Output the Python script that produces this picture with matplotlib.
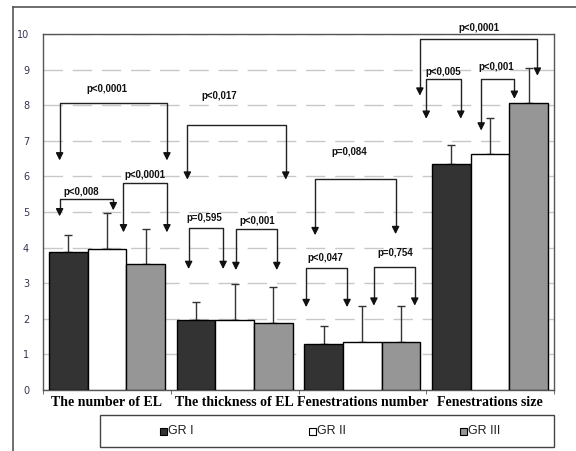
import numpy as np
import matplotlib.pyplot as plt
from matplotlib.patches import Rectangle
from matplotlib.lines import Line2D

categories = ['The number of EL', 'The thickness of EL', 'Fenestrations number', 'Fenestrations size']
groups = ['GR I', 'GR II', 'GR III']
means = {
    'GR I':   [3.88, 1.97, 1.29, 6.35],
    'GR II':  [3.97, 1.98, 1.35, 6.63],
    'GR III': [3.54, 1.88, 1.35, 8.05],
}
upper = {
    'GR I':   [4.35, 2.48, 1.80, 6.88],
    'GR II':  [4.97, 2.99, 2.35, 7.65],
    'GR III': [4.53, 2.89, 2.35, 9.05],
}
colors = {'GR I': '#333333', 'GR II': '#ffffff', 'GR III': '#969696'}

# brackets: x left, x right, y top, left tip, right tip, label, label x, label y
brackets = [
    (-0.37, 0.47, 8.05, 6.37, 6.37, 'p<0,0001', 0.0, 8.45),
    (-0.37, 0.05, 5.37, 4.80, 4.97, 'p<0,008', -0.2, 5.55),
    (0.13, 0.47, 5.82, 4.35, 4.35, 'p<0,0001', 0.3, 6.05),
    (0.63, 1.40, 7.45, 5.83, 5.83, 'p<0,017', 0.88, 8.25),
    (0.64, 0.91, 4.54, 3.32, 3.32, 'p=0,595', 0.76, 4.83),
    (1.01, 1.33, 4.52, 3.29, 3.29, 'p<0,001', 1.18, 4.76),
    (1.63, 2.26, 5.92, 4.27, 4.30, 'p=0,084', 1.9, 6.68),
    (1.56, 1.88, 3.44, 2.25, 2.25, 'p<0,047', 1.71, 3.71),
    (2.09, 2.41, 3.46, 2.29, 2.29, 'p=0,754', 2.26, 3.85),
    (2.45, 3.37, 9.85, 8.19, 8.75, 'p<0,0001', 2.91, 10.18),
    (2.50, 2.77, 8.74, 7.54, 7.54, 'p<0,005', 2.63, 8.94),
    (2.93, 3.19, 8.75, 7.21, 8.10, 'p<0,001', 3.05, 9.06),
]

fig = plt.figure(figsize=(5.76, 4.51), dpi=100)
ax = fig.add_axes([43/576, 1-390/451, 511/576, 356/451])

x = np.arange(len(categories))
w = 0.303
for i, g in enumerate(groups):
    pos = x + (i - 1) * w
    ax.bar(pos, means[g], w, color=colors[g], edgecolor='black', linewidth=1, zorder=3)
    err = np.array(upper[g]) - np.array(means[g])
    ax.errorbar(pos, means[g], yerr=[np.zeros(len(err)), err], fmt='none',
                ecolor='#333333', elinewidth=1, capsize=3, capthick=1, zorder=2)

for x1, x2, yt, t1, t2, lab, lx, ly in brackets:
    ax.plot([x1, x1, x2, x2], [t1 + 0.25, yt, yt, t2 + 0.25], color='#222222', lw=1,
            zorder=4, clip_on=False)
    for xx, tt in ((x1, t1), (x2, t2)):
        ax.annotate('', xy=(xx, tt), xytext=(xx, tt + 0.3),
                    arrowprops=dict(arrowstyle='-|>', color='#111111', lw=1, mutation_scale=11),
                    annotation_clip=False, zorder=5)
    ax.text(lx, ly, lab, ha='center', va='center', fontsize=7, fontweight='bold',
            family='Liberation Sans', color='#111111', zorder=6)

ax.set_xlim(-0.5, 3.5)
ax.set_ylim(0, 10)
ax.set_yticks(range(0, 11))
ax.yaxis.grid(True, linestyle=(0, (14, 7)), color='#c8c8c8', lw=1)
ax.set_axisbelow(True)
ax.tick_params(axis='y', length=0, labelsize=7, colors='#333355', pad=10)
ax.set_xticks(x)
ax.set_xticklabels(categories, family='Liberation Serif', fontweight='bold', fontsize=10)
ax.set_xticks(np.arange(-0.5, 3.6, 1), minor=True)
ax.tick_params(axis='x', which='major', length=0, pad=4)
ax.tick_params(axis='x', which='minor', length=3, color='#555555')
for s in ax.spines.values():
    s.set_color('#555555')
    s.set_linewidth(1)

# outer frame
fig.add_artist(Line2D([13/576, 13/576], [0, 1-7/451], color='#555555', lw=1.2))
fig.add_artist(Line2D([13/576, 1], [1-7/451, 1-7/451], color='#555555', lw=1.2))

# legend box
fig.add_artist(Rectangle((100/576, 1-447/451), 454/576, 32/451, fill=False,
                         edgecolor='#444444', lw=1))
for g, mx in zip(groups, [163, 312, 463]):
    fig.add_artist(Rectangle(((mx-3.5)/576, 1-434.5/451), 7/576, 7/451,
                             facecolor=colors[g], edgecolor='black', lw=0.8))
    fig.text((mx+5)/576, 1-431/451, g, fontsize=9, family='Liberation Sans',
             va='center', ha='left', color='#222222')

fig.savefig('out.png', dpi=100)
